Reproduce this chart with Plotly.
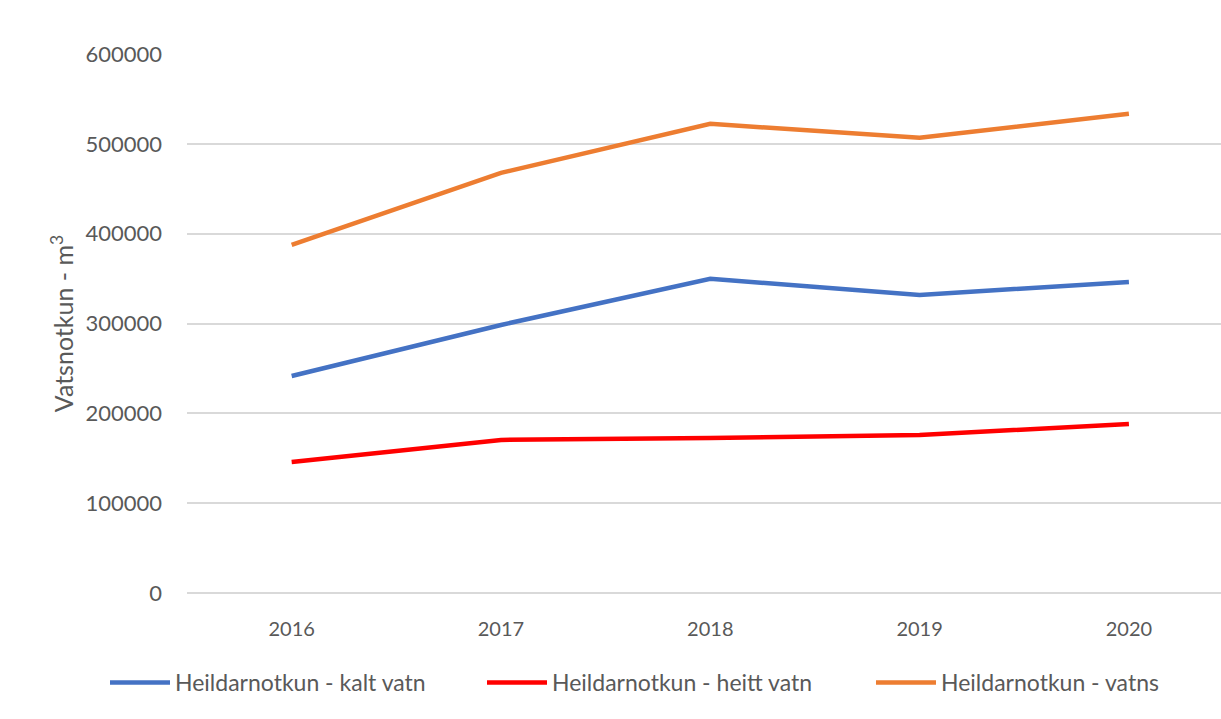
import plotly.graph_objects as go

years = ["2016", "2017", "2018", "2019", "2020"]
kalt = [241600, 298400, 349700, 331800, 346300]
heitt = [145900, 170400, 172600, 175900, 188200]
vatns = [387500, 467700, 522300, 506700, 533400]
y_ticks = [0, 100000, 200000, 300000, 400000, 500000, 600000]

series = [
    ("Heildarnotkun - kalt vatn", kalt, "#4472C4", "legend", -0.0793),
    ("Heildarnotkun - heitt vatn", heitt, "#FF0000", "legend2", 0.2853),
    ("Heildarnotkun - vatns", vatns, "#ED7D31", "legend3", 0.6615),
]

fig = go.Figure()
legend_layout = {}
for name, vals, col, leg, lx in series:
    fig.add_trace(go.Scatter(x=years, y=vals, name=name, mode="lines", legend=leg,
                             line=dict(color=col, width=4.5)))
    legend_layout[leg] = dict(orientation="h", x=lx, xanchor="left", y=-0.166, yanchor="middle",
                              font=dict(size=23, color="#595959"), itemwidth=60,
                              bgcolor="rgba(0,0,0,0)")

font_family = "Lato, Open Sans, sans-serif"
fig.update_layout(
    width=1221, height=719,
    margin=dict(l=187, r=0, t=54, b=126),
    paper_bgcolor="white", plot_bgcolor="white",
    font=dict(family=font_family, color="#595959", size=20),
    showlegend=True,
    xaxis=dict(type="category", range=[-0.5, 4.44], showgrid=False, showline=False,
               ticks="", tickfont=dict(size=20, color="#595959"), ticklabelstandoff=22),
    yaxis=dict(range=[0, 600000], tickvals=y_ticks, ticktext=[str(v) for v in y_ticks],
               showgrid=True, gridcolor="#D9D9D9", gridwidth=1.5, zeroline=True,
               zerolinecolor="#D9D9D9", zerolinewidth=1.5, showline=False, ticks="",
               tickfont=dict(size=22, color="#595959"), ticklabelstandoff=24,
               title=dict(text="Vatsnotkun - m<sup>3</sup>", font=dict(size=25, color="#595959"),
                          standoff=4)),
    **legend_layout,
)

fig.write_html("out.html", config={"displayModeBar": False},
               post_script="document.body.style.margin='0';document.body.style.overflow='hidden';")
